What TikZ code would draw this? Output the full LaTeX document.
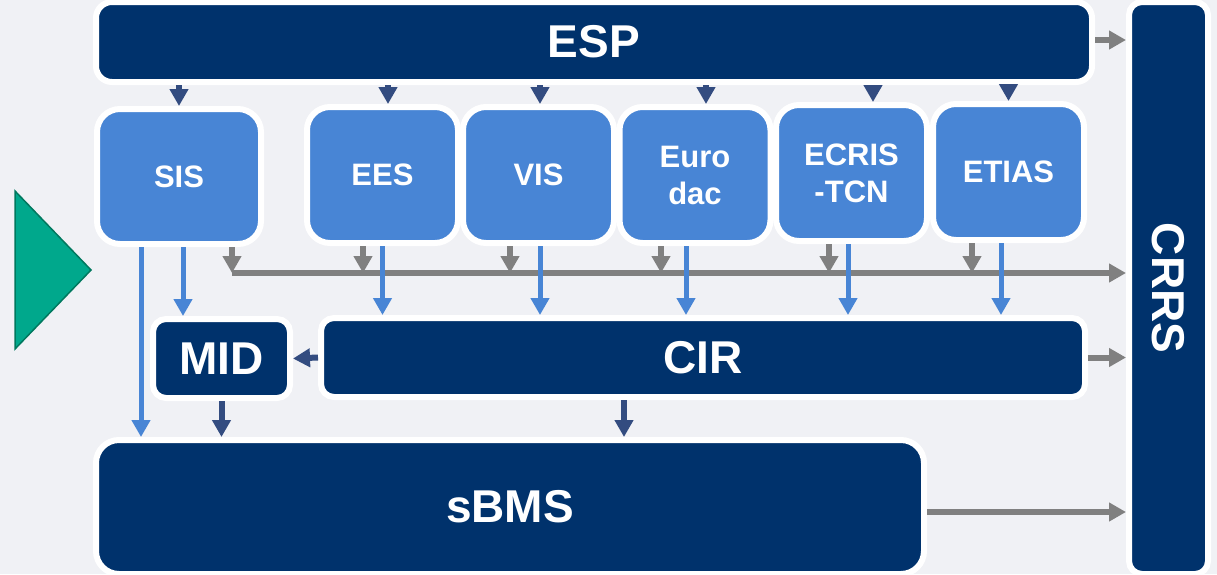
\documentclass[tikz,border=0pt]{standalone}
\usepackage{fontspec}
\setmainfont{Liberation Sans}
\usetikzlibrary{arrows.meta}
\definecolor{navy}{HTML}{00326C}
\definecolor{hellblau}{HTML}{4885D5}
\definecolor{pfeilblau}{HTML}{334C80}
\definecolor{grau}{HTML}{808080}
\definecolor{hinter}{HTML}{F0F1F5}
\definecolor{gruen}{HTML}{00A88C}
\definecolor{gruenrand}{HTML}{00785E}
\begin{document}
\begin{tikzpicture}[x=1pt,y=-1pt]
		\tikzstyle{zentral}=[draw=white,line width=6pt,fill=navy,text=white,font=\fontsize{46}{50}\selectfont\bfseries,rounded corners=13pt,inner sep=0pt]
		\tikzstyle{system}=[draw=white,line width=6pt,fill=hellblau,text=white,font=\fontsize{31}{37}\selectfont\bfseries,rounded corners=23pt,align=center,inner sep=0pt,minimum width=151pt,minimum height=136pt]
		\tikzstyle{pfeil}=[line width=6pt,-{Triangle[length=17pt,width=18pt]}]
		\tikzstyle{dunkelpfeil}=[pfeil,pfeilblau]
		\tikzstyle{hellpfeil}=[pfeil,hellblau,line width=5pt]
		\tikzstyle{graupfeil}=[pfeil,grau]
		\fill[hinter] (0,0) rectangle (1217,574);
		\useasboundingbox (0,0) rectangle (1217,574);
		\fill[gruen,draw=gruenrand,line width=1.5pt] (15,191) -- (91,270) -- (15,349) -- cycle;
		\node[zentral,minimum width=996pt,minimum height=80pt,rounded corners=16pt] (ESP) at (594,42) {ESP};
		\node[zentral,minimum width=79pt,minimum height=572pt] (CRRS) at (1168.5,288) {\rotatebox{-90}{CRRS}};
		\node[system,minimum width=164pt,minimum height=135pt] (SIS) at (179,176.5) {SIS};
		\node[system] (EES) at (382.5,175) {EES};
		\node[system] (VIS) at (538.5,175) {VIS};
		\node[system] (EURODAC) at (695,175) {Euro\\dac};
		\node[system] (ECRIS) at (851.5,173) {ECRIS\\-TCN};
		\node[system] (ETIAS) at (1008.5,172) {ETIAS};
		\node[zentral,minimum width=137pt,minimum height=79pt] (MID) at (221.5,358.5) {MID};
		\node[zentral,minimum width=764pt,minimum height=79pt] (CIR) at (703,357.5) {CIR};
		\node[zentral,minimum width=828pt,minimum height=134pt,rounded corners=23pt] (SBMS) at (510,507) {\raisebox{-3pt}{sBMS}};
		\coordinate (bus) at (232,273);

		\draw[dunkelpfeil] (ESP.south -| SIS.north) -- (SIS.north);
		\draw[dunkelpfeil] ([xshift=5.5pt]ESP.south -| EES.north) -- ([xshift=5.5pt]EES.north);
		\draw[dunkelpfeil] ([xshift=1.5pt]ESP.south -| VIS.north) -- ([xshift=1.5pt]VIS.north);
		\draw[dunkelpfeil] ([xshift=11pt]ESP.south -| EURODAC.north) -- ([xshift=11pt]EURODAC.north);
		\draw[dunkelpfeil] ([xshift=21.5pt]ESP.south -| ECRIS.north) -- ([xshift=21.5pt]ECRIS.north);
		\draw[dunkelpfeil] (ESP.south -| ETIAS.north) -- (ETIAS.north);

		\draw[graupfeil] ([yshift=2pt]ESP.east) -- ([yshift=2pt]ESP.east -| CRRS.west);
		\draw[graupfeil] (bus) -- (bus -| CRRS.west);
		\draw[graupfeil] (bus |- SIS.south) -- (bus);
		\draw[graupfeil] ([xshift=-19.5pt]EES.south) -- ([xshift=-19.5pt]EES.south |- bus);
		\draw[graupfeil] ([xshift=-28.5pt]VIS.south) -- ([xshift=-28.5pt]VIS.south |- bus);
		\draw[graupfeil] ([xshift=-34pt]EURODAC.south) -- ([xshift=-34pt]EURODAC.south |- bus);
		\draw[graupfeil] ([xshift=-22.5pt]ECRIS.south) -- ([xshift=-22.5pt]ECRIS.south |- bus);
		\draw[graupfeil] ([xshift=-36.5pt]ETIAS.south) -- ([xshift=-36.5pt]ETIAS.south |- bus);

		\draw[hellpfeil] ([xshift=-38pt]SIS.south) -- ([xshift=-38pt]SIS.south |- SBMS.north);
		\draw[hellpfeil] ([xshift=4pt]SIS.south) -- ([xshift=4pt]SIS.south |- MID.north);
		\draw[hellpfeil] (EES.south) -- (EES.south |- CIR.north);
		\draw[hellpfeil] ([xshift=1.5pt]VIS.south) -- ([xshift=1.5pt]VIS.south |- CIR.north);
		\draw[hellpfeil] ([xshift=-9pt]EURODAC.south) -- ([xshift=-9pt]EURODAC.south |- CIR.north);
		\draw[hellpfeil] ([xshift=-3.5pt]ECRIS.south) -- ([xshift=-3.5pt]ECRIS.south |- CIR.north);
		\draw[hellpfeil] ([xshift=-7.5pt]ETIAS.south) -- ([xshift=-7.5pt]ETIAS.south |- CIR.north);

		\draw[dunkelpfeil] (CIR.west) -- (MID.east);
		\draw[dunkelpfeil] (MID.south) -- (MID.south |- SBMS.north);
		\draw[dunkelpfeil] ([xshift=-79pt]CIR.south) -- ([xshift=-79pt]CIR.south |- SBMS.north);
		\draw[graupfeil] (CIR.east) -- (CIR.east -| CRRS.west);
		\draw[graupfeil] ([yshift=-5pt]SBMS.east) -- ([yshift=-5pt]SBMS.east -| CRRS.west);

	\end{tikzpicture}
\end{document}
